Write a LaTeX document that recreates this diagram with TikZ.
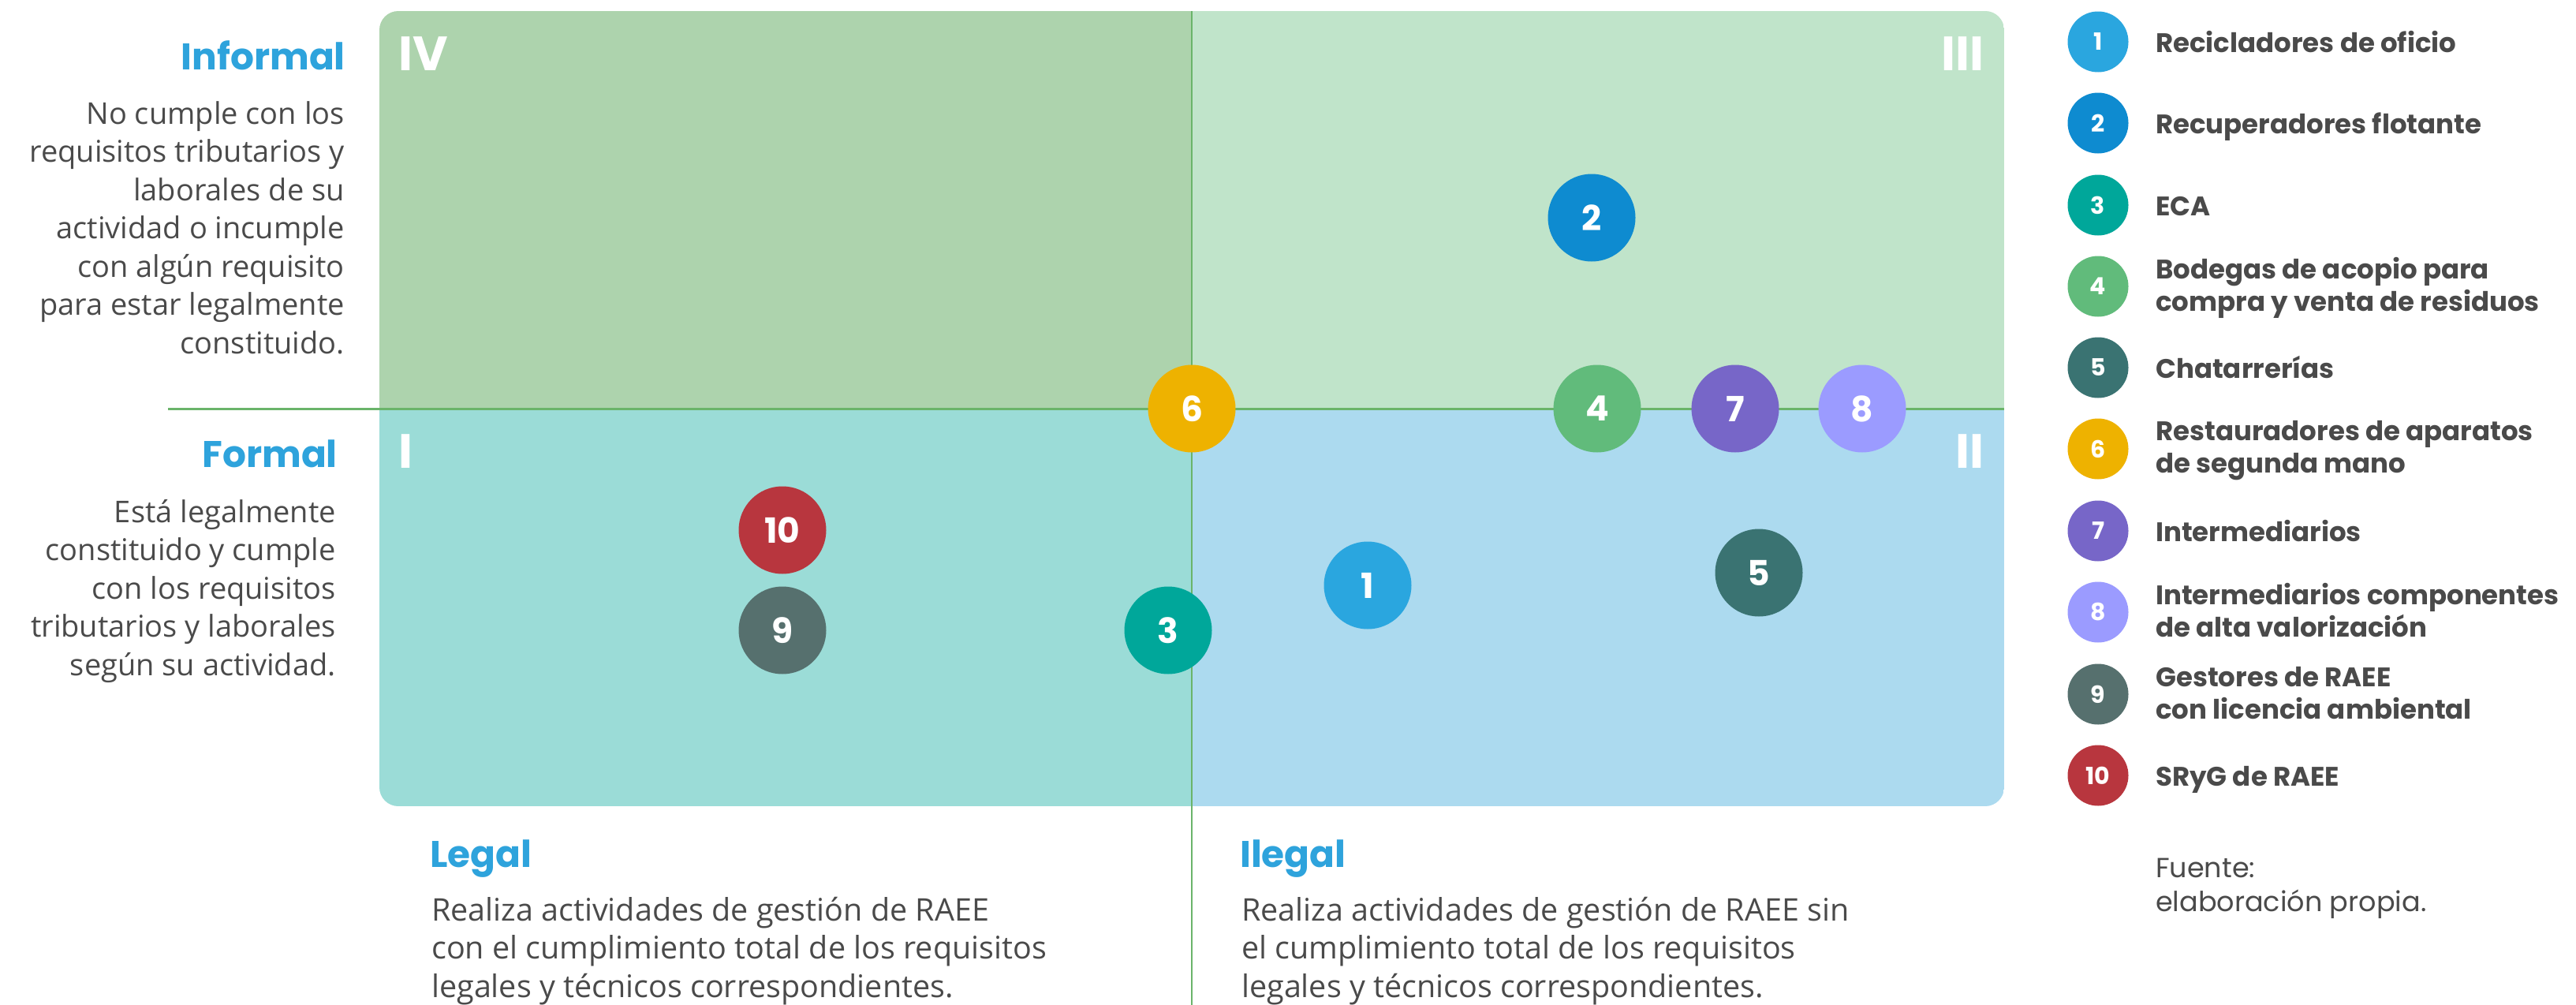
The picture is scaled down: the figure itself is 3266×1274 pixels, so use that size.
\documentclass[tikz,border=0pt]{standalone}
\usepackage{fontspec}
\usepackage{graphicx}
\setmainfont{Open Sans}
\newfontfamily\pop{Poppins}
\definecolor{qIV}{HTML}{ADD3AD}
\definecolor{qIII}{HTML}{C0E4CA}
\definecolor{qI}{HTML}{9BDCD7}
\definecolor{qII}{HTML}{ACDAEF}
\definecolor{axis}{HTML}{6AB46A}
\definecolor{headblue}{HTML}{2EA3DC}
\definecolor{bodygray}{HTML}{4A4A4A}
\definecolor{c1}{HTML}{2AA6DF}
\definecolor{c2}{HTML}{0E8BD0}
\definecolor{c3}{HTML}{00A79A}
\definecolor{c4}{HTML}{61BB7B}
\definecolor{c5}{HTML}{3A7372}
\definecolor{c6}{HTML}{EEB200}
\definecolor{c7}{HTML}{7766C8}
\definecolor{c8}{HTML}{9B9BFF}
\definecolor{c9}{HTML}{56706E}
\definecolor{c10}{HTML}{B8363E}
\begin{document}
\begin{tikzpicture}[x=1pt,y=-1pt,
  dot/.style={circle, minimum size=111pt, inner sep=0pt, text=white,
    font=\pop\bfseries\fontsize{44}{44}\selectfont},
  legdot/.style={circle, minimum size=77pt, inner sep=0pt, text=white,
    font=\pop\bfseries\fontsize{30}{30}\selectfont},
  legtxt/.style={anchor=base west, inner sep=0pt, text=bodygray,
    font=\pop\bfseries\fontsize{34}{41}\selectfont},
  head/.style={inner sep=0pt, text=headblue,
    font=\pop\bfseries\fontsize{47}{47}\selectfont},
  body/.style={inner sep=0pt, text=bodygray,
    font=\fontsize{38}{48.5}\selectfont},
  bodylow/.style={inner sep=0pt, text=bodygray,
    font=\fontsize{39.5}{48.5}\selectfont},
  roman/.style={inner sep=0pt, text=white,
    font=\pop\bfseries\fontsize{61}{61}\selectfont},
  axisline/.style={draw=axis, line width=3pt}
]
\useasboundingbox (0,0) rectangle (3266,1274);
\fill[white] (0,0) rectangle (3266,1274);

% quadrants
\begin{scope}
  \clip[rounded corners=24pt] (481,14) rectangle (2541,1022);
  \fill[qIV]  (481,14)   rectangle (1511,518);
  \fill[qIII] (1511,14)  rectangle (2541,518);
  \fill[qI]   (481,518)  rectangle (1511,1022);
  \fill[qII]  (1511,518) rectangle (2541,1022);
\end{scope}

% axes
\coordinate (hl) at (213,518);
\coordinate (hr) at (2541,518);
\coordinate (vt) at (1511,14);
\coordinate (vb) at (1511,1274);
\draw[axisline] (hl) -- (hr);
\draw[axisline, line width=2.5pt] (vt) -- (vb);

% roman numerals
\node[roman, anchor=base west] (rIV) at (505,89) {IV};
\node[roman, anchor=base east] (rIII) at (2516,89) {III};
\node[roman, anchor=base west] (rI) at (505,593) {I};
\node[roman, anchor=base east] (rII) at (2516,593) {II};

% points
\node[dot, fill=c10] (p10) at (992,672) {10};
\node[dot, fill=c9]  (p9)  at (992,799) {9};
\node[dot, fill=c3]  (p3)  at (1481,799) {3};
\node[dot, fill=c6]  (p6)  at (1511,518) {6};
\node[dot, fill=c1]  (p1)  at (1734,742) {1};
\node[dot, fill=c2]  (p2)  at (2018,276) {2};
\node[dot, fill=c4]  (p4)  at (2025,518) {4};
\node[dot, fill=c7]  (p7)  at (2200,518) {7};
\node[dot, fill=c8]  (p8)  at (2361,518) {8};
\node[dot, fill=c5]  (p5)  at (2230,726) {5};

% left texts
\node[head, anchor=base east] (informal) at (438,88) {Informal};
\node[body, anchor=base east] (informalb) at (437,157)
  {\begin{tabular}[t]{@{}r@{}}No cumple con los\\requisitos tributarios y\\laborales de su\\actividad o incumple\\con algún requisito\\para estar legalmente\\constituido.\end{tabular}};
\node[head, anchor=base east] (formal) at (428,592) {Formal};
\node[body, anchor=base east] (formalb) at (426,662)
  {\begin{tabular}[t]{@{}r@{}}Está legalmente\\constituido y cumple\\con los requisitos\\tributarios y laborales\\según su actividad.\end{tabular}};

% bottom texts
\node[head, anchor=base west] (legal) at (545,1099) {Legal};
\node[bodylow, anchor=base west] (legalb) at (547,1167)
  {\begin{tabular}[t]{@{}l@{}}Realiza actividades de gestión de RAEE\\con el cumplimiento total de los requisitos\\legales y técnicos correspondientes.\end{tabular}};
\node[head, anchor=base west] (ilegal) at (1572,1099) {Ilegal};
\node[bodylow, anchor=base west] (ilegalb) at (1574,1167)
  {\begin{tabular}[t]{@{}l@{}}Realiza actividades de gestión de RAEE sin\\el cumplimiento total de los requisitos\\legales y técnicos correspondientes.\end{tabular}};

% legend
\node[legdot, fill=c1]  (l1)  at (2660,53)  {1};
\node[legdot, fill=c2]  (l2)  at (2660,156) {2};
\node[legdot, fill=c3]  (l3)  at (2660,260) {3};
\node[legdot, fill=c4]  (l4)  at (2660,363) {4};
\node[legdot, fill=c5]  (l5)  at (2660,466) {5};
\node[legdot, fill=c6]  (l6)  at (2660,569) {6};
\node[legdot, fill=c7]  (l7)  at (2660,673) {7};
\node[legdot, fill=c8]  (l8)  at (2660,776) {8};
\node[legdot, fill=c9]  (l9)  at (2660,880) {9};
\node[legdot, fill=c10] (l10) at (2660,983) {10};

\node[legtxt] (t1) at (2733,66) {Recicladores de oficio};
\node[legtxt] (t2) at (2733,169) {Recuperadores flotante};
\node[legtxt] (t3) at (2733,273) {ECA};
\node[legtxt] (t4) at (2733,353) {\begin{tabular}[t]{@{}l@{}}Bodegas de acopio para\\compra y venta de residuos\end{tabular}};
\node[legtxt] (t5) at (2733,479) {Chatarrerías};
\node[legtxt] (t6) at (2733,558) {\begin{tabular}[t]{@{}l@{}}Restauradores de aparatos\\de segunda mano\end{tabular}};
\node[legtxt] (t7) at (2733,686) {Intermediarios};
\node[legtxt] (t8) at (2733,766) {\begin{tabular}[t]{@{}l@{}}Intermediarios componentes\\de alta valorización\end{tabular}};
\node[legtxt] (t9) at (2733,870) {\begin{tabular}[t]{@{}l@{}}Gestores de RAEE\\con licencia ambiental\end{tabular}};
\node[legtxt] (t10) at (2733,996) {SRyG de RAEE};

\node[anchor=base west, inner sep=0pt, text=bodygray,
  font=\pop\fontsize{35}{43}\selectfont] (src) at (2733,1112)
  {\begin{tabular}[t]{@{}l@{}}Fuente:\\elaboración propia.\end{tabular}};
\end{tikzpicture}
\end{document}
